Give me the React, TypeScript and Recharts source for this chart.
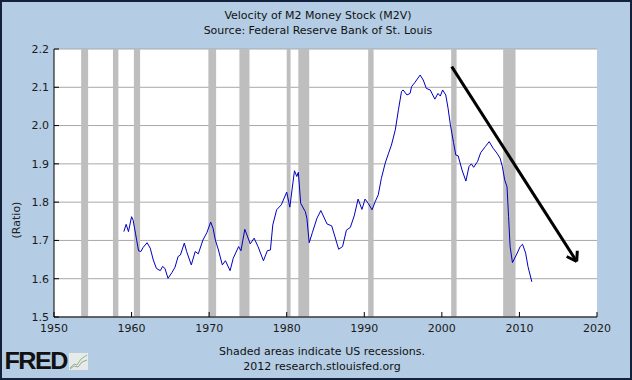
import React from 'react';
import {
  ComposedChart,
  Line,
  XAxis,
  YAxis,
  CartesianGrid,
  ReferenceArea,
  ReferenceLine,
} from 'recharts';

// Quarter-ish dates (decimal years) and M2 velocity readings
const years: number[] = [
  1959.0, 1959.3, 1959.6, 1960.0, 1960.2, 1960.5, 1960.9, 1961.2, 1961.5, 1962.0,
  1962.4, 1962.8, 1963.2, 1963.7, 1964.0, 1964.3, 1964.7, 1965.2, 1965.6, 1966.0,
  1966.3, 1966.8, 1967.1, 1967.7, 1968.2, 1968.6, 1969.2, 1969.7, 1970.2, 1970.5,
  1970.8, 1971.2, 1971.7, 1972.1, 1972.7, 1973.1, 1973.8, 1974.1, 1974.6, 1975.3,
  1975.8, 1976.3, 1977.0, 1977.5, 1977.9, 1978.2, 1978.7, 1979.3, 1980.0, 1980.4,
  1981.0, 1981.3, 1981.5, 1981.8, 1982.4, 1982.6, 1982.9, 1983.3, 1983.9, 1984.4,
  1985.2, 1985.8, 1986.7, 1987.2, 1987.7, 1988.2, 1988.7, 1989.2, 1989.7, 1990.1,
  1990.5, 1991.0, 1991.4, 1991.8, 1992.2, 1992.7, 1993.1, 1993.5, 1994.0, 1994.4,
  1994.8, 1995.0, 1995.5, 1995.9, 1996.1, 1996.5, 1997.2, 1997.6, 1998.0, 1998.5,
  1999.1, 1999.5, 1999.8, 2000.1, 2000.5, 2000.8, 2001.1, 2001.5, 2001.8, 2002.1,
  2002.6, 2003.1, 2003.5, 2003.8, 2004.1, 2004.6, 2005.0, 2005.6, 2006.1, 2006.6,
  2007.1, 2007.5, 2007.8, 2008.1, 2008.4, 2008.6, 2008.8, 2009.1, 2009.6, 2010.1,
  2010.4, 2010.8, 2011.1, 2011.6,
];

const m2v: number[] = [
  1.723, 1.742, 1.723, 1.762, 1.753, 1.719, 1.673, 1.671, 1.682, 1.694,
  1.680, 1.649, 1.627, 1.621, 1.632, 1.627, 1.601, 1.616, 1.630, 1.658,
  1.662, 1.693, 1.671, 1.636, 1.671, 1.665, 1.701, 1.720, 1.748, 1.732,
  1.701, 1.675, 1.636, 1.647, 1.621, 1.653, 1.684, 1.673, 1.729, 1.691,
  1.706, 1.684, 1.647, 1.673, 1.675, 1.740, 1.780, 1.793, 1.826, 1.787,
  1.882, 1.867, 1.878, 1.797, 1.775, 1.758, 1.694, 1.720, 1.758, 1.778,
  1.743, 1.738, 1.677, 1.684, 1.727, 1.734, 1.764, 1.808, 1.781, 1.808,
  1.797, 1.780, 1.801, 1.819, 1.862, 1.902, 1.926, 1.949, 1.989, 2.041,
  2.089, 2.093, 2.080, 2.084, 2.102, 2.112, 2.132, 2.119, 2.097, 2.093,
  2.069, 2.084, 2.077, 2.093, 2.080, 2.045, 2.002, 1.956, 1.923, 1.921,
  1.884, 1.855, 1.893, 1.900, 1.891, 1.906, 1.929, 1.945, 1.958, 1.941,
  1.928, 1.915, 1.893, 1.858, 1.840, 1.762, 1.684, 1.642, 1.662, 1.684,
  1.690, 1.667, 1.632, 1.592,
];

// Recession periods (start, end) in decimal years
const recessionStarts: number[] = [1953.5, 1957.6, 1960.3, 1969.9, 1973.9, 1980.0, 1981.5, 1990.5, 2001.2, 2007.9];
const recessionEnds: number[] = [1954.4, 1958.3, 1961.1, 1970.9, 1975.2, 1980.5, 1982.9, 1991.2, 2001.9, 2009.5];

const xTicks: number[] = [1950, 1960, 1970, 1980, 1990, 2000, 2010, 2020];
const yTicks: number[] = [1.5, 1.6, 1.7, 1.8, 1.9, 2.0, 2.1, 2.2];

// Hand-drawn trend arrow (data coordinates)
const arrowStart = { x: 2001.27, y: 2.154 };
const arrowTip = { x: 2017.38, y: 1.645 };
const arrowArmA = { x: 2016.09, y: 1.658 };
const arrowArmB = { x: 2017.46, y: 1.673 };

const titleText = 'Velocity of M2 Money Stock (M2V)';
const sourceText = 'Source: Federal Reserve Bank of St. Louis';
const footer1 = 'Shaded areas indicate US recessions.';
const footer2 = '2012 research.stlouisfed.org';

const data = years.map((y, i) => ({ year: y, value: m2v[i] }));

const FONT = '"DejaVu Sans", Verdana, sans-serif';
const BG = '#B4CDE4';

export default function App() {
  return (
    <div
      style={{
        position: 'absolute',
        left: 0,
        top: 0,
        width: 632,
        height: 380,
        background: BG,
        fontFamily: FONT,
        overflow: 'hidden',
      }}
    >
      <ComposedChart
        width={632}
        height={380}
        data={data}
        margin={{ top: 49, right: 35, left: 0, bottom: 0 }}
      >
        <CartesianGrid
          vertical={false}
          stroke="#A8A8A8"
          fill="#FFFFFF"
          horizontalValues={yTicks}
        />
        {recessionStarts.map((s, i) => (
          <ReferenceArea
            key={'r' + i}
            x1={s}
            x2={recessionEnds[i]}
            y1={1.5}
            y2={2.2}
            fill="#BEBEBE"
            fillOpacity={1}
            stroke="none"
            ifOverflow="hidden"
          />
        ))}
        <XAxis
          dataKey="year"
          type="number"
          domain={[1950, 2020]}
          ticks={xTicks}
          allowDataOverflow
          height={63}
          stroke="#000"
          tickSize={-5}
          tickMargin={12}
          tick={{ fill: '#1a1a1a', fontSize: 11, fontFamily: FONT }}
          interval={0}
        />
        <YAxis
          type="number"
          domain={[1.5, 2.2]}
          ticks={yTicks}
          width={54}
          stroke="#000"
          tickSize={-5}
          tickMargin={10}
          tickFormatter={(v: number) => v.toFixed(1)}
          tick={{ fill: '#1a1a1a', fontSize: 11, fontFamily: FONT }}
          interval={0}
        />
        <Line
          type="linear"
          dataKey="value"
          stroke="#0000C0"
          strokeWidth={1}
          dot={false}
          isAnimationActive={false}
        />
        <ReferenceLine
          segment={[arrowStart, arrowTip]}
          stroke="#000"
          strokeWidth={3}
          ifOverflow="visible"
        />
        <ReferenceLine
          segment={[arrowArmA, arrowTip]}
          stroke="#000"
          strokeWidth={3}
          ifOverflow="visible"
        />
        <ReferenceLine
          segment={[arrowArmB, arrowTip]}
          stroke="#000"
          strokeWidth={3}
          ifOverflow="visible"
        />
      </ComposedChart>

      <div
        style={{
          position: 'absolute',
          left: 0,
          width: 636,
          top: 8,
          textAlign: 'center',
          fontSize: 11,
          lineHeight: '15px',
          color: '#111',
        }}
      >
        <div>{titleText}</div>
        <div>{sourceText}</div>
      </div>

      <div
        style={{
          position: 'absolute',
          left: 17 - 30,
          top: 220 - 8,
          width: 60,
          height: 16,
          textAlign: 'center',
          fontSize: 11,
          lineHeight: '16px',
          color: '#222',
          transform: 'rotate(-90deg)',
        }}
      >
        (Ratio)
      </div>

      <div
        style={{
          position: 'absolute',
          left: 0,
          width: 644,
          top: 344,
          textAlign: 'center',
          fontSize: 11,
          lineHeight: '15px',
          color: '#111',
        }}
      >
        <div>{footer1}</div>
        <div>{footer2}</div>
      </div>

      <div
        style={{
          position: 'absolute',
          left: 6,
          top: 348,
          height: 26,
          display: 'flex',
          alignItems: 'center',
        }}
      >
        <span
          style={{
            fontFamily: '"Liberation Sans", Arial, sans-serif',
            fontWeight: 900,
            fontSize: 24,
            letterSpacing: -1.5,
            color: '#111',
            lineHeight: '26px',
            transform: 'scaleX(1.05)',
            display: 'inline-block',
          }}
        >
          FRED
        </span>
        <svg width={19} height={17} style={{ marginLeft: 4 }}>
          <rect x={0} y={0} width={19} height={17} fill="#E6EBE8" />
          <polyline points="1,15 5,11 8,12 12,6 18,2" fill="none" stroke="#8FB88F" strokeWidth={1} />
          <polyline points="1,16 5,13 9,14 13,9 18,7" fill="none" stroke="#A0A0A0" strokeWidth={1} />
        </svg>
      </div>

      <div
        style={{
          position: 'absolute',
          left: 0,
          top: 0,
          width: 632,
          height: 380,
          boxSizing: 'border-box',
          border: '2px solid #14213D',
          pointerEvents: 'none',
        }}
      />
    </div>
  );
}
